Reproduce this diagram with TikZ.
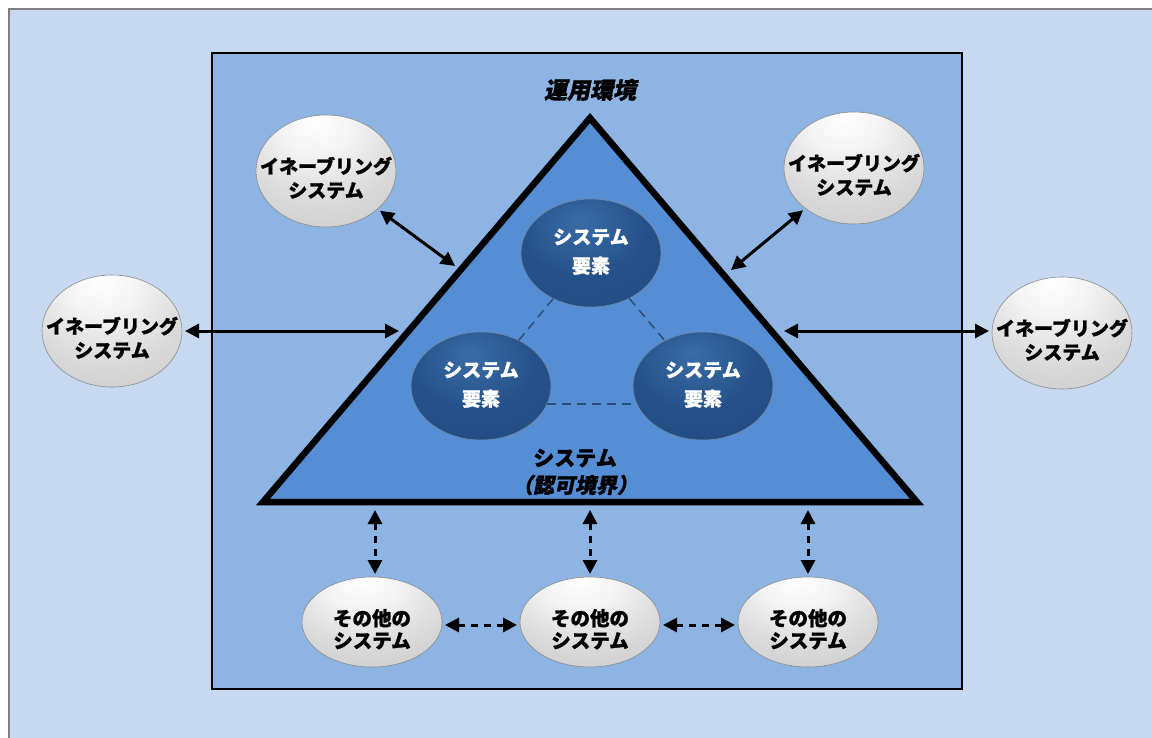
\documentclass[tikz,border=0pt]{standalone}
\usepackage{fontspec}
\newfontfamily\jp{Noto Sans CJK JP}[BoldFeatures={FakeBold=1.3}]
\newfontfamily\jpsl{Noto Sans CJK JP}[FakeSlant=0.2, BoldFeatures={FakeBold=1.3}]
\newfontfamily\jpslh{Noto Sans CJK JP}[FakeSlant=0.2, RawFeature=+halt, BoldFeatures={FakeBold=1.3}]
\usetikzlibrary{shapes.geometric,arrows.meta,calc}

\definecolor{pagebg}{HTML}{C6D9F1}
\definecolor{pageedge}{HTML}{7F7F7F}
\definecolor{envfill}{HTML}{8DB4E2}
\definecolor{sysfill}{HTML}{558ED5}
\definecolor{navyA}{HTML}{3A6DA6}
\definecolor{navyB}{HTML}{25518A}
\definecolor{navyC}{HTML}{17385F}
\definecolor{linkdash}{HTML}{2C4E7A}
\definecolor{greyA}{HTML}{F4F4F4}
\definecolor{greyB}{HTML}{D8D8D8}
\definecolor{greyC}{HTML}{C4C4C4}
\definecolor{greyD}{HTML}{A4A4A4}

\pgfdeclareradialshading{glossgray}{\pgfpoint{-4bp}{24bp}}{%
  color(0bp)=(white); color(12bp)=(greyA); color(30bp)=(greyB);
  color(52bp)=(greyC); color(74bp)=(greyD)}
\pgfdeclareradialshading{glossnavy}{\pgfpoint{-4bp}{16bp}}{%
  color(0bp)=(navyA); color(22bp)=(navyB); color(44bp)=(navyB!75!navyC);
  color(66bp)=(navyC)}

% multi-line label whose block is shifted vertically inside its node
\newcommand\lowtext[2]{\raisebox{#1}[0pt][0pt]{\begin{tabular}{@{}c@{}}#2\end{tabular}}}

\tikzset{
  greyball/.style={ellipse, minimum width=140pt, minimum height=112pt, inner sep=-30pt,
    shading=glossgray, draw=white!55!black, line width=0.6pt, outer sep=3pt,
    font=\jp\bfseries\fontsize{19}{24}\selectfont, text=black},
  smallgrey/.style={greyball, minimum height=90pt, font=\jp\bfseries\fontsize{19.5}{22}\selectfont},
  navyball/.style={ellipse, minimum width=140pt, minimum height=108pt, inner sep=-30pt,
    shading=glossnavy, draw=white!40!navyC, line width=0.6pt,
    font=\jp\bfseries\fontsize{19}{29}\selectfont, text=white},
  link/.style={line width=3pt, {Triangle[length=14pt,width=14pt]}-{Triangle[length=14pt,width=14pt]}},
  dlink/.style={link, dash pattern=on 7pt off 6pt},
  inner link/.style={linkdash, line width=1.5pt, dash pattern=on 9pt off 6pt},
}

\begin{document}
\begin{tikzpicture}[x=1pt,y=-1pt]
\useasboundingbox (0,0) rectangle (1152,738);
\clip (0,0) rectangle (1152,738);

% page background and operating-environment frame
\fill[white] (0,0) rectangle (1152,738);
\filldraw[fill=pagebg, draw=pageedge, line width=1.2pt] (9,9) rectangle (1170,760);
\filldraw[fill=envfill, draw=black, line width=2.2pt] (212,53) rectangle (962,689);

% system boundary triangle
\coordinate (apex) at (590,118);
\coordinate (bl) at (263,502);
\coordinate (br) at (917,502);
\filldraw[fill=sysfill, draw=black, line width=6.5pt, line join=miter] (apex) -- (br) -- (bl) -- cycle;

\node[font=\jpsl\bfseries\fontsize{23}{25}\selectfont] (env) at (590,90) {運用環境};
\node[font=\jp\bfseries\fontsize{21}{23}\selectfont] (sys) at (575,458) {システム};
\node[font=\jpslh\bfseries\fontsize{21}{23}\selectfont] (auth) at (575,485) {（認可境界）};

% system elements
\node[navyball] (se1) at (591,253) {\lowtext{-4pt}{システム\\要素}};
\node[navyball] (se2) at (481,386) {\lowtext{-4pt}{システム\\要素}};
\node[navyball] (se3) at (703,386) {\lowtext{-4pt}{システム\\要素}};
\draw[inner link] (se1) -- (se2);
\draw[inner link] (se1) -- (se3);
\draw[inner link] (se2.-15) -- (se3.195);

% enabling systems
\node[greyball] (en1) at (326,171) {\lowtext{-14pt}{イネーブリング\\システム}};
\node[greyball] (en2) at (854,168) {\lowtext{-14pt}{イネーブリング\\システム}};
\node[greyball] (en3) at (112,331) {\lowtext{-14pt}{イネーブリング\\システム}};
\node[greyball] (en4) at (1062,333) {\lowtext{-14pt}{イネーブリング\\システム}};

% other systems
\node[smallgrey] (os1) at (372,622) {\lowtext{-15pt}{その他の\\システム}};
\node[smallgrey] (os2) at (590,622) {\lowtext{-15pt}{その他の\\システム}};
\node[smallgrey] (os3) at (808,622) {\lowtext{-15pt}{その他の\\システム}};

% attachment points on the triangle
\coordinate (tl) at (455,266);
\coordinate (tr) at (731,270);
\coordinate (ml) at (399,331);
\coordinate (mr) at (784,331);
\coordinate (b1) at (375,510);
\coordinate (b2) at (590,510);
\coordinate (b3) at (808,510);

\draw[link] (en1) -- (tl);
\draw[link] (en2) -- (tr);
\draw[link] (en3.east |- ml) -- (ml);
\draw[link] (mr) -- (en4.west |- mr);

\draw[dlink] (b1) -- (b1 |- os1.north);
\draw[dlink] (b2) -- (b2 |- os2.north);
\draw[dlink] (b3) -- (b3 |- os3.north);
\draw[dlink] ([yshift=-3pt]os1.east) -- ([yshift=-3pt]os2.west);
\draw[dlink] ([yshift=-3pt]os2.east) -- ([yshift=-3pt]os3.west);
\end{tikzpicture}
\end{document}
